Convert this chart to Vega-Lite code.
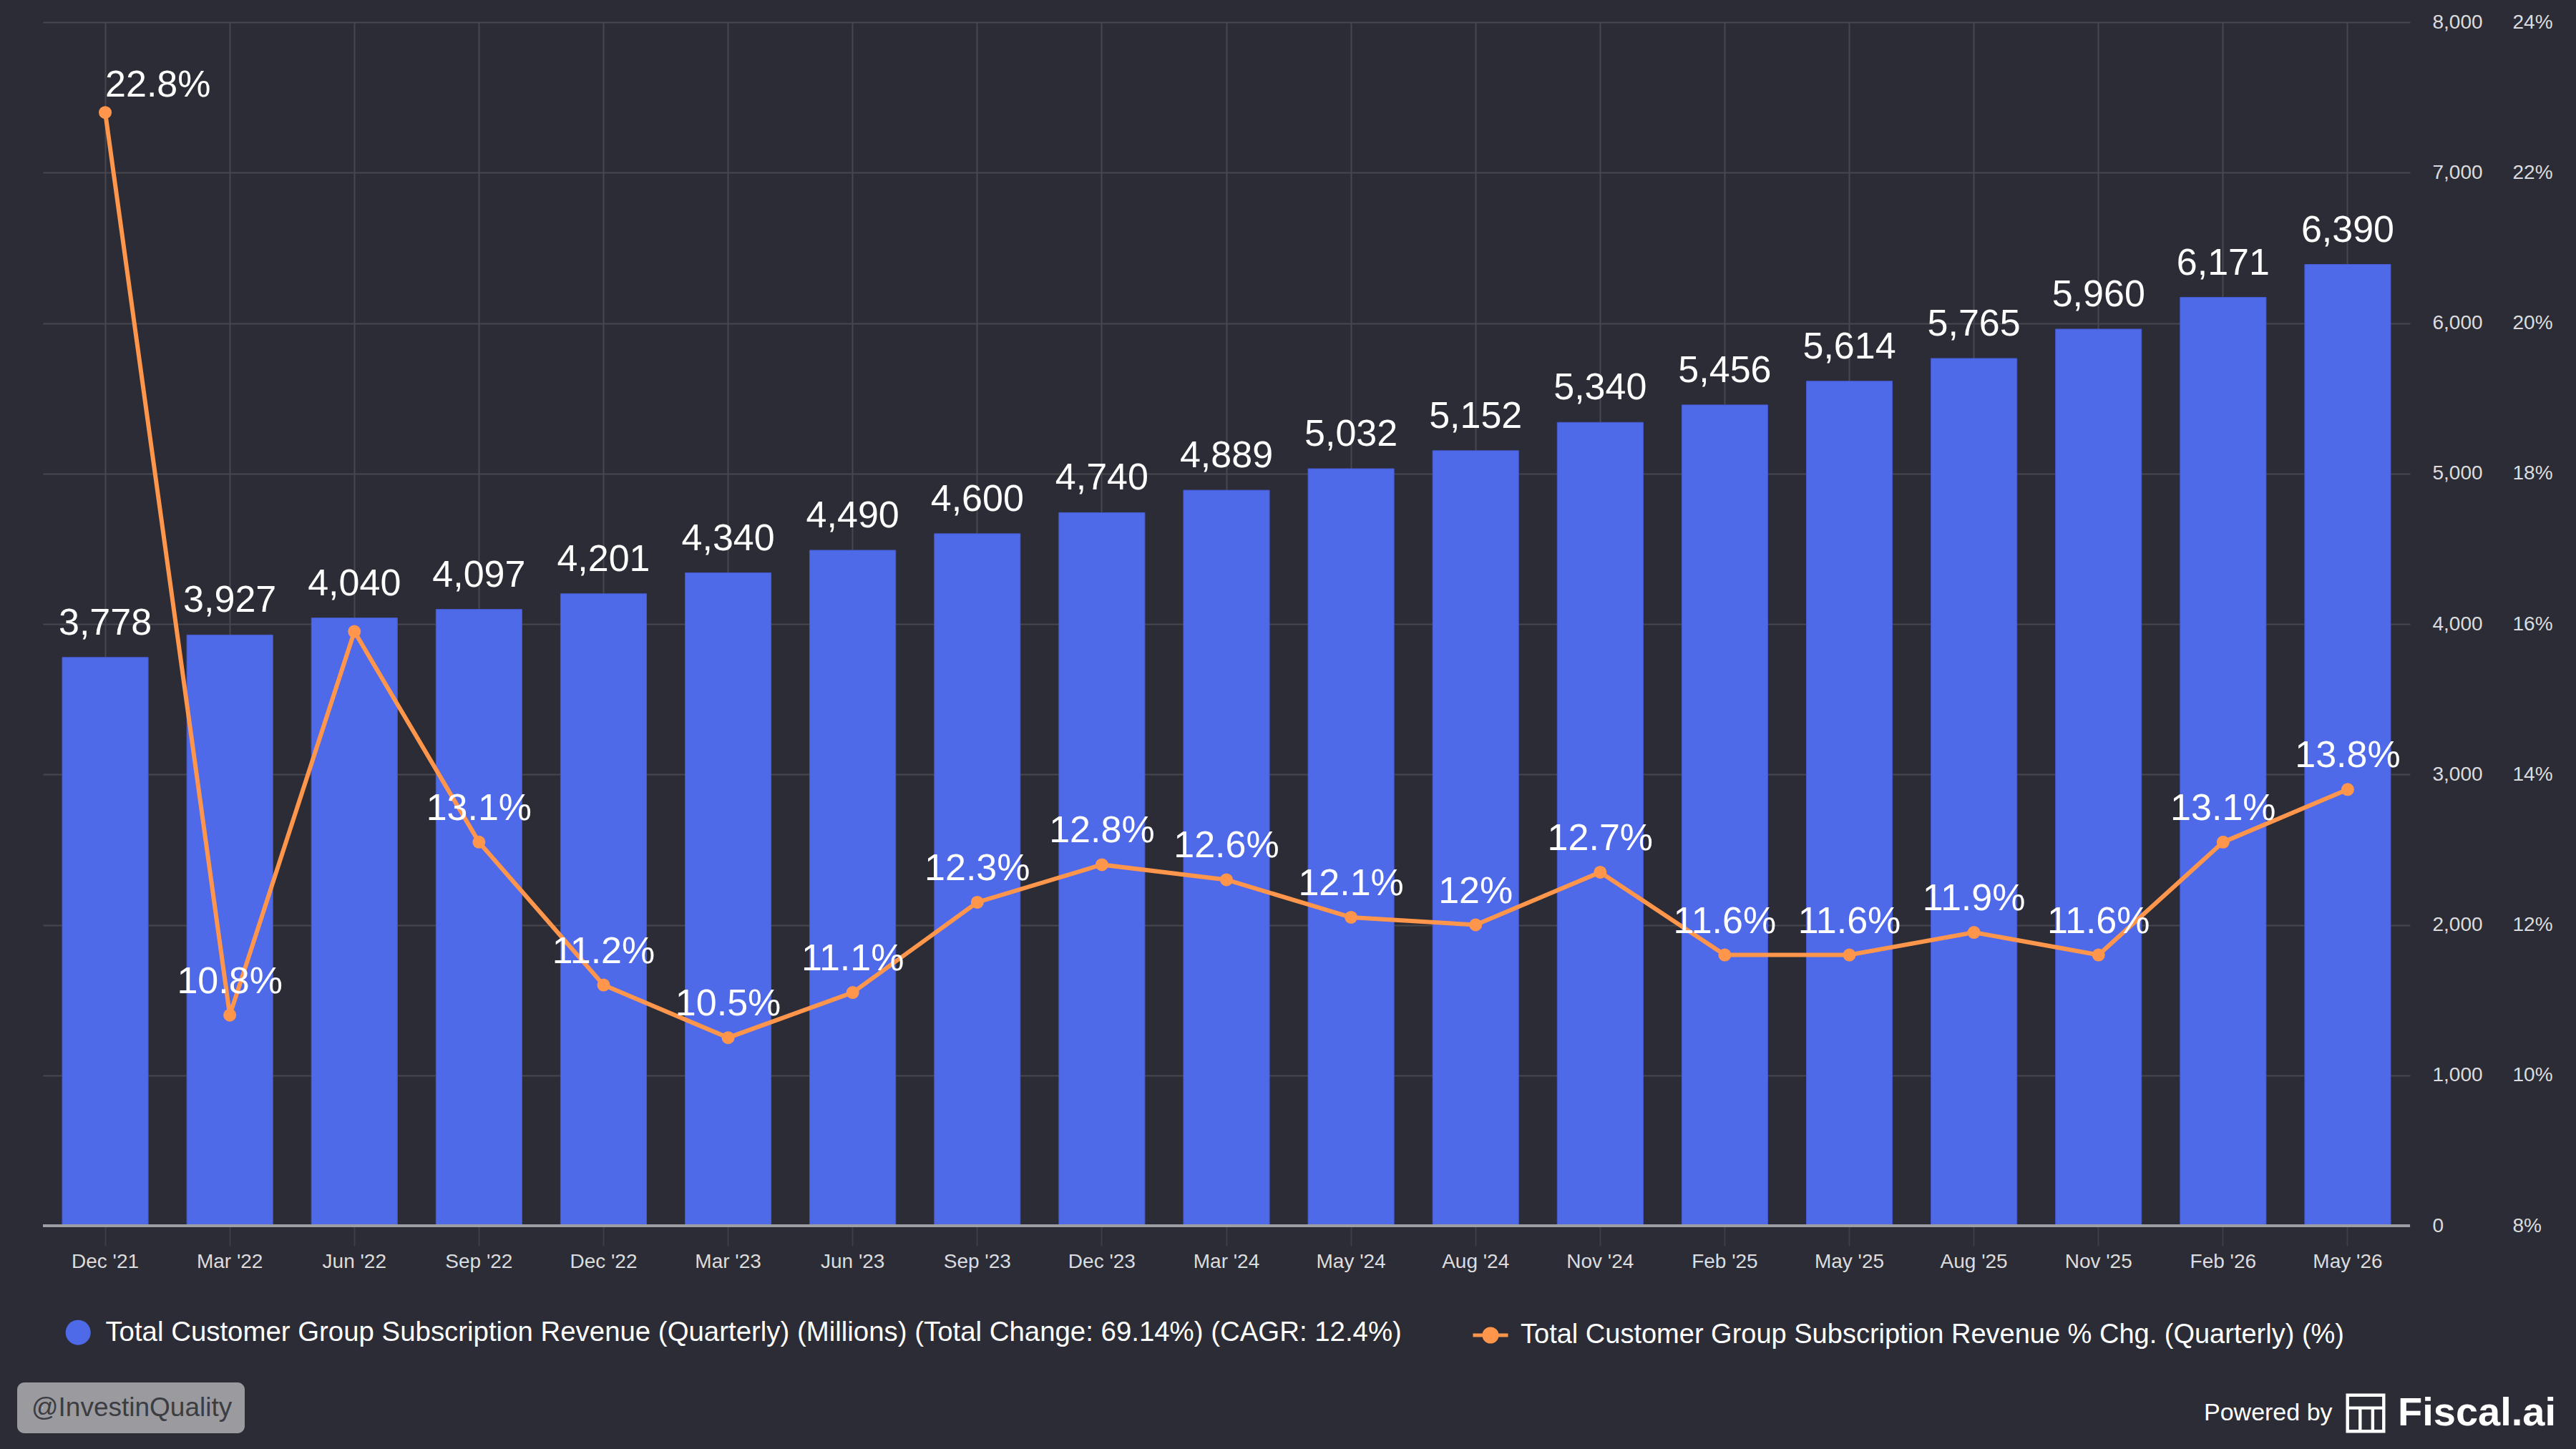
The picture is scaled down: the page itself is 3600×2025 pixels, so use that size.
{
  "$schema": "https://vega.github.io/schema/vega-lite/v6.json",
  "width": 3308,
  "height": 1682,
  "autosize": {"type": "none"},
  "padding": {"left": 60, "top": 31, "right": 232, "bottom": 312},
  "background": "#2b2c35",
  "config": {
    "view": {"stroke": null},
    "font": "Liberation Sans",
    "axis": {"labelFont": "Liberation Sans", "labelFontSize": 28, "labelColor": "#dcdcdf"},
    "legend": {"labelFont": "Liberation Sans", "titleFont": "Liberation Sans"}
  },
  "data": {
    "values": [
      {"Quarter": "Dec '21", "Revenue": 3778, "Pct": 0.228},
      {"Quarter": "Mar '22", "Revenue": 3927, "Pct": 0.108},
      {"Quarter": "Jun '22", "Revenue": 4040, "Pct": 0.159},
      {"Quarter": "Sep '22", "Revenue": 4097, "Pct": 0.131},
      {"Quarter": "Dec '22", "Revenue": 4201, "Pct": 0.112},
      {"Quarter": "Mar '23", "Revenue": 4340, "Pct": 0.105},
      {"Quarter": "Jun '23", "Revenue": 4490, "Pct": 0.111},
      {"Quarter": "Sep '23", "Revenue": 4600, "Pct": 0.123},
      {"Quarter": "Dec '23", "Revenue": 4740, "Pct": 0.128},
      {"Quarter": "Mar '24", "Revenue": 4889, "Pct": 0.126},
      {"Quarter": "May '24", "Revenue": 5032, "Pct": 0.121},
      {"Quarter": "Aug '24", "Revenue": 5152, "Pct": 0.12},
      {"Quarter": "Nov '24", "Revenue": 5340, "Pct": 0.127},
      {"Quarter": "Feb '25", "Revenue": 5456, "Pct": 0.116},
      {"Quarter": "May '25", "Revenue": 5614, "Pct": 0.116},
      {"Quarter": "Aug '25", "Revenue": 5765, "Pct": 0.119},
      {"Quarter": "Nov '25", "Revenue": 5960, "Pct": 0.116},
      {"Quarter": "Feb '26", "Revenue": 6171, "Pct": 0.131},
      {"Quarter": "May '26", "Revenue": 6390, "Pct": 0.138}
    ]
  },
  "layer": [
    {
      "layer": [
        {
          "mark": {"type": "bar", "stroke": "#4659cc", "strokeWidth": 1},
          "encoding": {
            "x": {
              "field": "Quarter", "type": "nominal", "sort": null, "title": null,
              "scale": {"paddingInner": 0.31, "paddingOuter": 0.155},
              "axis": {
                "labelAngle": 0, "domain": false, "grid": true, "gridColor": "#46474f", "gridWidth": 2,
                "tickColor": "#3d3e47", "tickSize": 28, "tickWidth": 2, "labelPadding": 8
              }
            },
            "y": {
              "field": "Revenue", "type": "quantitative", "title": null,
              "scale": {"domain": [0, 8000]},
              "axis": {
                "orient": "right", "values": [0, 1000, 2000, 3000, 4000, 5000, 6000, 7000, 8000],
                "format": ",.0f", "grid": true, "gridColor": "#46474f", "gridWidth": 2,
                "domain": false, "ticks": false, "labelPadding": 31
              }
            },
            "fill": {
              "datum": "Total Customer Group Subscription Revenue (Quarterly) (Millions) (Total Change: 69.14%) (CAGR: 12.4%)",
              "scale": {"range": ["#4f6ae9"]},
              "legend": {
                "title": null, "orient": "none", "legendX": 30, "legendY": 1812,
                "symbolType": "circle", "symbolSize": 1225, "symbolStrokeWidth": 0,
                "labelFontSize": 38.4, "labelColor": "#ffffff", "labelLimit": 0, "labelOffset": 19
              }
            }
          }
        },
        {
          "mark": {"type": "rule", "color": "#9d9ea4", "strokeWidth": 3},
          "encoding": {
            "y": {"datum": 0},
            "strokeDash": {
              "datum": "Fiscal.ai",
              "scale": {"range": [[1, 0]]},
              "legend": {
                "title": "Powered by", "titleOrient": "left", "titleFontSize": 34, "titleColor": "#ffffff",
                "titleFontWeight": "normal", "titlePadding": 18, "titleBaseline": "middle",
                "orient": "none", "legendX": 3020, "legendY": 1916,
                "symbolType": "M-1,-1H1V1H-1Z M-0.84,-0.84V-0.35H0.84V-0.84Z M-0.84,-0.19V0.84H-0.36V-0.19Z M-0.2,-0.19V0.84H0.28V-0.19Z M0.44,-0.19V0.84H0.84V-0.19Z",
                "symbolSize": 3025, "symbolStrokeWidth": 0, "symbolFillColor": "#ffffff", "symbolOpacity": 1,
                "labelFontSize": 56, "labelFontWeight": "bold", "labelColor": "#ffffff",
                "labelOffset": 17, "labelLimit": 0
              }
            }
          }
        },
        {
          "mark": {"type": "text", "fontSize": 52, "color": "#ffffff", "baseline": "alphabetic", "dy": -32},
          "encoding": {
            "x": {"field": "Quarter", "type": "nominal", "sort": null},
            "y": {"field": "Revenue", "type": "quantitative", "scale": {"domain": [0, 8000]}},
            "text": {"field": "Revenue", "type": "quantitative", "format": ","},
            "opacity": {
              "datum": "@InvestinQuality", "type": "ordinal",
              "scale": {"range": [1, 1]},
              "legend": {
                "title": null, "orient": "none", "legendX": -36, "legendY": 1901,
                "fillColor": "#9a9a9f", "cornerRadius": 10, "padding": 17,
                "symbolSize": 1, "symbolOpacity": 0, "labelOffset": -34,
                "labelFontSize": 37, "labelColor": "#3c3c43", "labelLimit": 0
              }
            }
          }
        }
      ]
    },
    {
      "layer": [
        {
          "mark": {"type": "line", "strokeWidth": 6},
          "encoding": {
            "x": {"field": "Quarter", "type": "nominal", "sort": null},
            "y": {
              "field": "Pct", "type": "quantitative", "title": null,
              "scale": {"domain": [0.08, 0.24]},
              "axis": {
                "orient": "right", "offset": 143, "labelPadding": 0,
                "values": [0.08, 0.1, 0.12, 0.14, 0.16, 0.18, 0.2, 0.22, 0.24],
                "format": ".0%", "grid": false, "domain": false, "ticks": false
              }
            },
            "stroke": {
              "datum": "Total Customer Group Subscription Revenue % Chg. (Quarterly) (%)",
              "scale": {"range": ["#ff964b"]},
              "legend": {
                "title": null, "orient": "none", "legendX": 1996, "legendY": 1808,
                "symbolType": "M-1,0L1,0M0.37,0A0.37,0.37,0,1,1,-0.37,0A0.37,0.37,0,1,1,0.37,0Z",
                "symbolSize": 2401, "symbolStrokeWidth": 5, "symbolFillColor": "#ff964b",
                "labelFontSize": 38, "labelColor": "#ffffff", "labelLimit": 0, "labelOffset": 15
              }
            }
          }
        },
        {
          "mark": {"type": "point", "filled": true, "color": "#ff964b", "opacity": 1, "size": 324},
          "encoding": {
            "x": {"field": "Quarter", "type": "nominal", "sort": null},
            "y": {"field": "Pct", "type": "quantitative", "scale": {"domain": [0.08, 0.24]}}
          }
        },
        {
          "transform": [{"filter": "datum.Quarter !== \"Jun '22\" && datum.Quarter !== \"Dec '21\""}],
          "mark": {"type": "text", "fontSize": 52, "color": "#ffffff", "baseline": "alphabetic", "dy": -31},
          "encoding": {
            "x": {"field": "Quarter", "type": "nominal", "sort": null},
            "y": {"field": "Pct", "type": "quantitative", "scale": {"domain": [0.08, 0.24]}},
            "text": {"field": "Pct", "type": "quantitative", "format": ".3~%"}
          }
        },
        {
          "transform": [{"filter": "datum.Quarter === \"Dec '21\""}],
          "mark": {"type": "text", "fontSize": 52, "color": "#ffffff", "baseline": "alphabetic", "align": "left", "dy": -22},
          "encoding": {
            "x": {"field": "Quarter", "type": "nominal", "sort": null},
            "y": {"field": "Pct", "type": "quantitative", "scale": {"domain": [0.08, 0.24]}},
            "text": {"field": "Pct", "type": "quantitative", "format": ".3~%"}
          }
        }
      ]
    }
  ],
  "resolve": {"scale": {"y": "independent"}}
}
